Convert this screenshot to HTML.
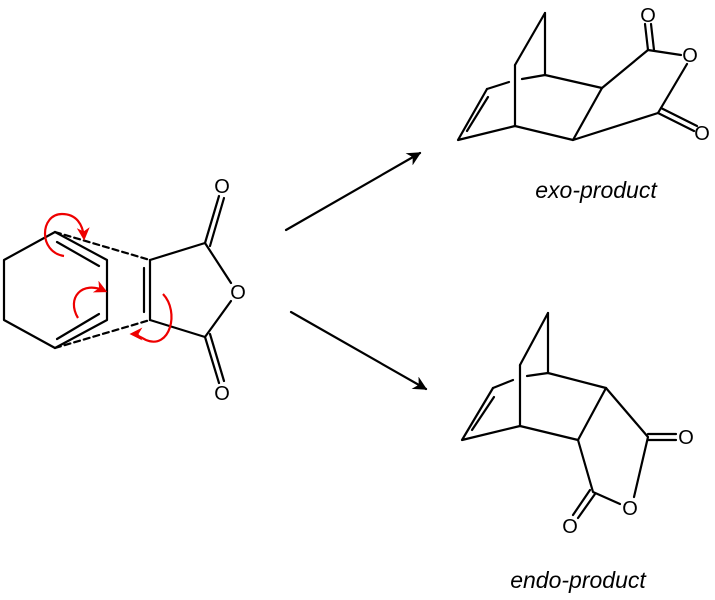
<!DOCTYPE html>
<html><head><style>body{margin:0;background:#fff}svg{display:block}</style></head><body>
<svg width="715" height="600" viewBox="0 0 715 600" xmlns="http://www.w3.org/2000/svg">
<defs>
<marker id="ah" viewBox="0 0 10 10" refX="9" refY="5" markerWidth="16" markerHeight="14" markerUnits="userSpaceOnUse" orient="auto"><path d="M0,0 L10,5 L0,10 L3,5z" fill="#000"/></marker>
<marker id="rh" viewBox="0 0 10 10" refX="8" refY="5" markerWidth="13" markerHeight="13" markerUnits="userSpaceOnUse" orient="auto"><path d="M0,0 L10,5 L0,10 L3,5z" fill="#e00"/></marker>
</defs>
<g stroke="#000" stroke-width="2.2" fill="none" stroke-linecap="round" stroke-linejoin="round">
<polyline points="55,232 4,260 4,320 55,348 107,320 107,260 55,232"/>
<line x1="57" y1="242" x2="99" y2="266"/>
<line x1="57" y1="339" x2="99" y2="314"/>
<line x1="55" y1="232" x2="150" y2="260" stroke-dasharray="6,4"/>
<line x1="55" y1="348" x2="150" y2="320" stroke-dasharray="6,4"/>
<line x1="150" y1="260" x2="150" y2="320"/>
<line x1="144" y1="268" x2="144" y2="312"/>
<polyline points="150,260 205,243 231,283"/>
<polyline points="150,320 205,337 231,301"/>
<line x1="205" y1="243" x2="219" y2="196"/><line x1="210" y1="246" x2="224" y2="198"/>
<line x1="205" y1="337" x2="219" y2="383"/><line x1="210" y1="334" x2="224" y2="381"/>
<line x1="286" y1="230" x2="420" y2="153" marker-end="url(#ah)"/>
<line x1="291" y1="312" x2="426" y2="389" marker-end="url(#ah)"/>
<line x1="545" y1="13" x2="515" y2="65"/>
<line x1="545" y1="13" x2="545" y2="75"/>
<line x1="515" y1="65" x2="515" y2="126"/>
<line x1="487" y1="89" x2="509" y2="82"/><line x1="522" y1="79" x2="545" y2="75"/>
<polyline points="545,75 602,88 648,50 681,55"/>
<polyline points="687,64 658,113 573,140 602,88"/>
<polyline points="573,140 515,126 458,140 487,89"/>
<line x1="467" y1="131" x2="488" y2="97"/>
<line x1="648" y1="50" x2="645" y2="24"/><line x1="654" y1="50" x2="651" y2="24"/>
<line x1="658" y1="113" x2="694" y2="131"/><line x1="661" y1="108" x2="697" y2="126"/>
<line x1="548" y1="313" x2="520" y2="365"/>
<line x1="548" y1="313" x2="548" y2="373"/>
<line x1="520" y1="365" x2="520" y2="426"/>
<line x1="493" y1="388" x2="513" y2="380"/><line x1="527" y1="376" x2="548" y2="373"/>
<polyline points="548,373 606,388 578,440 520,426 462,440 493,388"/>
<line x1="472" y1="430" x2="494" y2="397"/>
<polyline points="606,388 648,437 634,497"/>
<polyline points="578,440 593,492 620,504"/>
<line x1="648" y1="434" x2="676" y2="434"/><line x1="648" y1="440" x2="676" y2="440"/>
<line x1="590" y1="490" x2="573" y2="515"/><line x1="595" y1="494" x2="578" y2="518"/>
</g>
<g stroke="#e00" stroke-width="2.2" fill="none">
<path d="M64,256 C38,252 40,214 62,214 C76,214 83,224 84,238" marker-end="url(#rh)"/>
<path d="M78,318 C66,298 82,280 105,291" marker-end="url(#rh)"/>
<path d="M163,294 C180,312 170,350 146,340 C140,337 136,334 132,334" marker-end="url(#rh)"/>
</g>
<g font-family="Liberation Sans, sans-serif" font-size="20" text-anchor="middle" fill="#000">
<text x="222" y="193">O</text>
<text x="238" y="299">O</text>
<text x="222" y="400">O</text>
<text x="648" y="22">O</text>
<text x="690" y="62">O</text>
<text x="702" y="140">O</text>
<text x="686" y="444">O</text>
<text x="630" y="515">O</text>
<text x="570" y="533">O</text>
<text x="596" y="198" font-style="italic" font-size="23">exo-product</text>
<text x="578" y="588" font-style="italic" font-size="23">endo-product</text>
</g>
</svg>
</body></html>
